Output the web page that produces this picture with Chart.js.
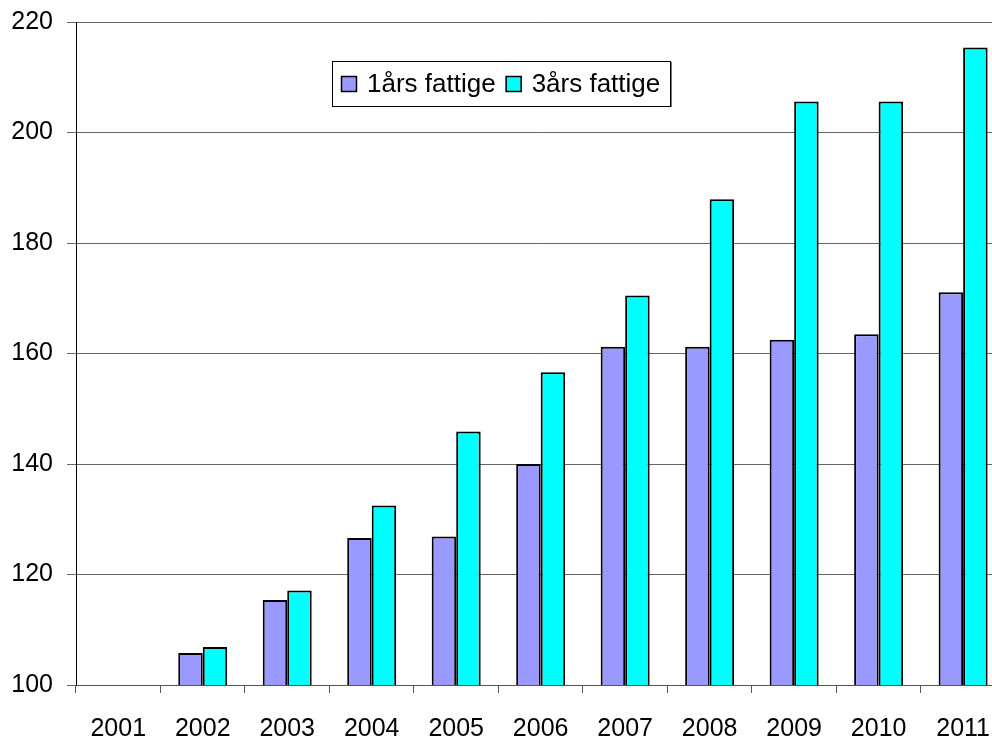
<!DOCTYPE html>
<html>
<head>
<meta charset="utf-8">
<script src="https://cdn.jsdelivr.net/npm/chart.js@4"></script>
<style>
  html, body { margin: 0; padding: 0; overflow: hidden; background: #fff; }
  #wrap { width: 1011px; height: 740px; }
</style>
</head>
<body>
<div id="wrap"><canvas id="bars"></canvas></div>
<script>
// data
const years = ['2001', '2002', '2003', '2004', '2005', '2006', '2007', '2008', '2009', '2010', '2011']
const oneYear = [100, 105.8, 115.4, 126.6, 126.9, 140, 161.2, 161.2, 162.5, 163.5, 171.1]
const threeYear = [100, 106.9, 117.1, 132.5, 145.9, 156.6, 170.5, 187.9, 205.6, 205.6, 215.4]
const yTicks = [100, 120, 140, 160, 180, 200, 220]

const FONT = "'Liberation Sans', Arial, sans-serif"

// legend box sitting inside the plot, like the original
const boxLegend = {
  id: 'boxLegend',
  afterDraw(chart) {
    const ctx = chart.ctx
    const x = 332, y = 61, w = 338, h = 45
    ctx.save()
    ctx.fillStyle = '#fff'
    ctx.fillRect(x, y, w, h)
    ctx.strokeStyle = '#777'
    ctx.lineWidth = 2
    ctx.beginPath()
    ctx.moveTo(x + w + 1, y + 1)
    ctx.lineTo(x + w + 1, y + h + 1)
    ctx.stroke()
    ctx.strokeStyle = '#000'
    ctx.lineWidth = 1
    ctx.strokeRect(x + 0.5, y + 0.5, w, h)
    ctx.font = '26px ' + FONT
    ctx.textBaseline = 'middle'
    let cx = x + 9
    chart.data.datasets.forEach(ds => {
      ctx.fillStyle = ds.backgroundColor
      ctx.fillRect(cx, y + 15, 16, 16)
      ctx.strokeStyle = '#000'
      ctx.lineWidth = 1.5
      ctx.strokeRect(cx + 0.5, y + 15.5, 15, 15)
      ctx.fillStyle = '#000'
      ctx.fillText(ds.label, cx + 26, y + 24)
      cx += 26 + ctx.measureText(ds.label).width + 10
    })
    ctx.restore()
  }
}

const barConfig = {
  type: 'bar',
  data: {
    labels: years,
    datasets: [
      {
        label: '1års fattige',
        backgroundColor: '#9999FF',
        borderColor: '#000',
        borderWidth: 2,
        data: oneYear,
      },
      {
        label: '3års fattige',
        backgroundColor: '#00FFFF',
        borderColor: '#000',
        borderWidth: 2,
        data: threeYear,
      },
    ],
  },
  options: {
    responsive: true,
    maintainAspectRatio: false,
    animation: false,
    layout: { padding: { top: 22, left: 0, right: 0, bottom: 0 } },
    plugins: {
      legend: { display: false },
      tooltip: { enabled: false },
    },
    datasets: {
      bar: { categoryPercentage: 0.58, barPercentage: 1 }
    },
    scales: {
      x: {
        afterFit: scale => { scale.height = 55 },
        grid: { drawOnChartArea: false, drawTicks: true, tickLength: 8, color: '#555', offset: true },
        border: { color: '#555', width: 1 },
        ticks: { color: '#000', font: { size: 25, family: FONT }, padding: 21, maxRotation: 0 },
      },
      y: {
        min: 100,
        max: 220,
        afterBuildTicks: scale => { scale.ticks = yTicks.map(v => ({ value: v })) },
        afterFit: scale => { scale.width = 76 },
        grid: { color: '#666', lineWidth: 1, tickLength: 9 },
        border: { color: '#000', width: 1 },
        ticks: { color: '#000', font: { size: 25, family: FONT, lineHeight: 0.6 }, padding: 14 },
      },
    },
  },
  plugins: [boxLegend],
}

const barsCtx = document.getElementById('bars')
window.myBar = new Chart(barsCtx, barConfig)
</script>
</body>
</html>
